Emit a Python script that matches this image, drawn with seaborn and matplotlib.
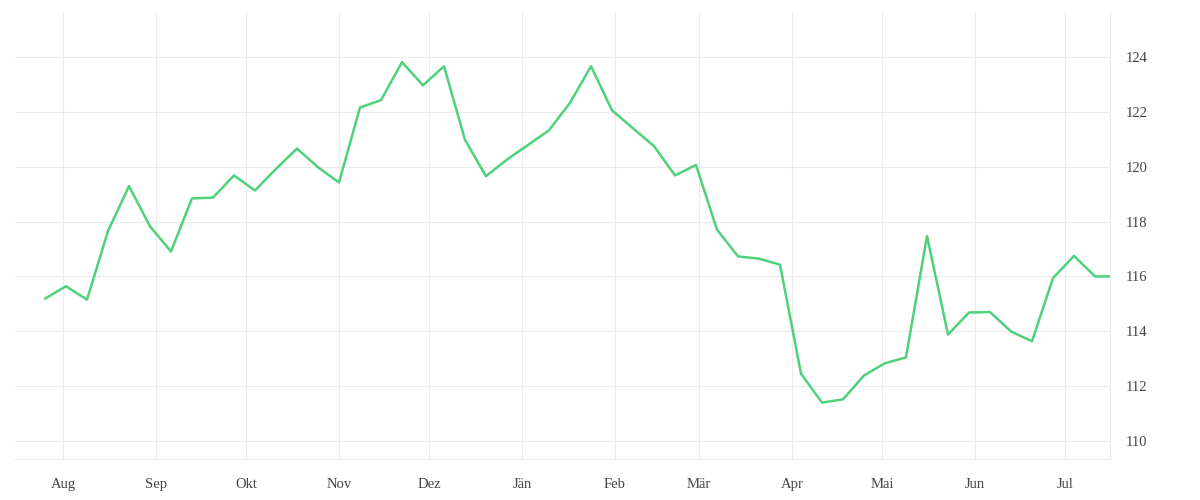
import pandas as pd
import matplotlib
matplotlib.use("Agg")
import matplotlib.pyplot as plt
import matplotlib.dates as mdates
import matplotlib.ticker as ticker
import seaborn as sns

# weekly readings, last one is a partial week
dates = list(pd.date_range("2022-07-26", periods=51, freq="7D")) + [pd.Timestamp("2023-07-16")]
values = [
    115.19, 115.64, 115.15, 117.66, 119.30, 117.83, 116.91, 118.85, 118.88, 119.69,
    119.14, 119.93, 120.67, 119.99, 119.43, 122.17, 122.44, 123.83, 122.98, 123.68,
    120.99, 119.66, 120.27, 120.80, 121.34, 122.34, 123.68, 122.07, 121.41, 120.76,
    119.69, 120.07, 117.71, 116.73, 116.65, 116.43, 112.45, 111.39, 111.51, 112.38,
    112.83, 113.04, 117.48, 113.88, 114.68, 114.70, 113.99, 113.63, 115.94, 116.75,
    116.00, 116.00,
]
month_labels = ["Jän", "Feb", "Mär", "Apr", "Mai", "Jun",
                "Jul", "Aug", "Sep", "Okt", "Nov", "Dez"]
y_ticks = [110, 112, 114, 116, 118, 120, 122, 124]

df = pd.DataFrame({"date": dates, "value": values})

sns.set_theme(style="white")
plt.rcParams["font.family"] = ["Liberation Serif", "DejaVu Serif"]

fig = plt.figure(figsize=(12, 5), dpi=100)
ax = fig.add_axes([0.0125, 0.082, 0.9125, 0.894])

sns.lineplot(data=df, x="date", y="value", color="#4fd17b", linewidth=1.8, ax=ax)

ax.set_xlim(dates[0] - pd.Timedelta(days=10), dates[-1])
ax.set_ylim(109.33, 125.66)

ax.yaxis.tick_right()
ax.set_yticks(y_ticks)
ax.xaxis.set_major_locator(mdates.MonthLocator())
ax.xaxis.set_major_formatter(
    ticker.FuncFormatter(lambda x, pos: month_labels[mdates.num2date(x).month - 1])
)

ax.grid(True, color="#ebebeb", linewidth=0.8)
ax.tick_params(axis="both", length=0, labelsize=10.5, labelcolor="#444444")
ax.tick_params(axis="y", pad=11)
ax.tick_params(axis="x", pad=14)
ax.set_xlabel("")
ax.set_ylabel("")

for side in ["top", "left"]:
    ax.spines[side].set_visible(False)
for side in ["bottom", "right"]:
    ax.spines[side].set_color("#ebebeb")
    ax.spines[side].set_linewidth(0.8)

fig.savefig("out.png", dpi=100)
